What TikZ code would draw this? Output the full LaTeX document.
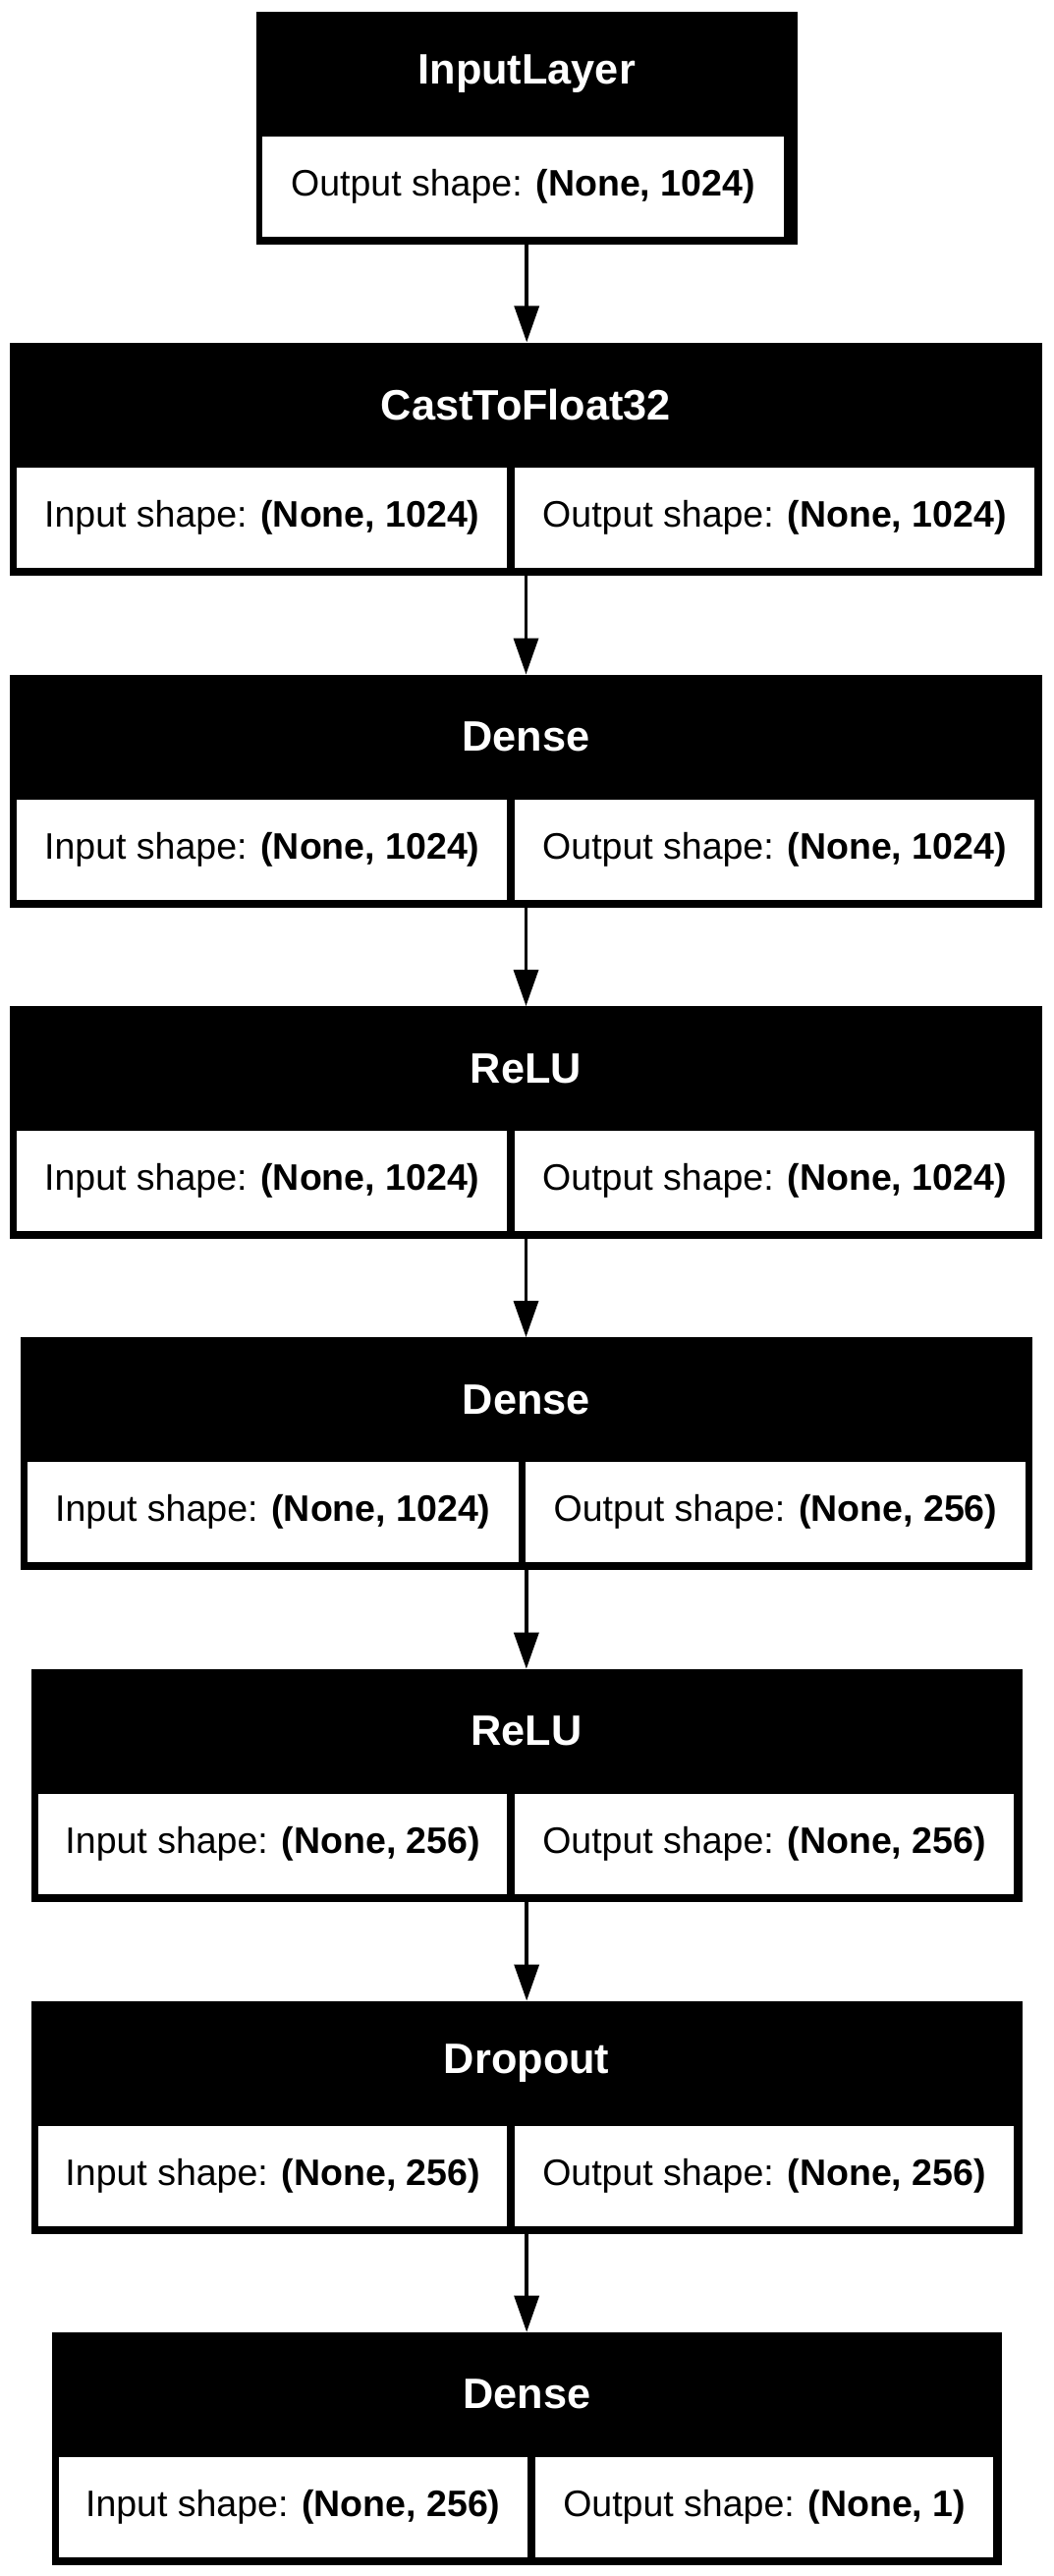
\documentclass[tikz,border=0pt]{standalone}
\usepackage{fontspec}
\setmainfont{Liberation Sans}
\usetikzlibrary{arrows.meta}

\begin{document}
\begin{tikzpicture}[x=1pt, y=1pt]
  \tikzstyle{layer}=[rectangle, fill=black, inner sep=0pt, anchor=north west, minimum height=237pt]
  \tikzstyle{head}=[text=white, inner sep=0pt, font=\fontsize{43.3}{52}\selectfont\bfseries]
  \tikzstyle{cell}=[rectangle, fill=white, inner sep=0pt, anchor=north west, minimum height=102pt,
                    font=\fontsize{37.5}{45}\selectfont]
  \tikzstyle{arrow}=[-{Triangle[length=37pt, width=25pt]}, line width=3.5pt]

  \useasboundingbox (0,0) rectangle (1072,-2622);

  % InputLayer
  \node[layer, minimum width=551pt] (inp) at (260.5,-11.5) {};
  \node[head] (inpH) at ([yshift=-63.5pt]inp.north) {InputLayer};
  \node[cell, minimum width=531.2pt] (inpOut) at (266.6,-138.5) {Output shape: \textbf{(None, 1024)}};

  % CastToFloat32
  \node[layer, minimum width=1051.4pt] (cast) at (9.6,-348.3) {};
  \node[head] (castH) at ([yshift=-63.5pt]cast.north) {CastToFloat32};
  \node[cell, minimum width=499.1pt] (castIn) at (17.1,-475.5) {Input shape: \textbf{(None, 1024)}};
  \node[cell, minimum width=529.1pt] (castOut) at (523.7,-475.5) {Output shape: \textbf{(None, 1024)}};

  % Dense
  \node[layer, minimum width=1051.4pt] (dense1) at (9.6,-686.5) {};
  \node[head] (dense1H) at ([yshift=-63.5pt]dense1.north) {Dense};
  \node[cell, minimum width=499.1pt] (dense1In) at (17.1,-813.5) {Input shape: \textbf{(None, 1024)}};
  \node[cell, minimum width=529.1pt] (dense1Out) at (523.7,-813.5) {Output shape: \textbf{(None, 1024)}};

  % ReLU
  \node[layer, minimum width=1051.4pt] (relu1) at (9.6,-1024) {};
  \node[head] (relu1H) at ([yshift=-63.5pt]relu1.north) {ReLU};
  \node[cell, minimum width=499.1pt] (relu1In) at (17.1,-1151) {Input shape: \textbf{(None, 1024)}};
  \node[cell, minimum width=529.1pt] (relu1Out) at (523.7,-1151) {Output shape: \textbf{(None, 1024)}};

  % Dense
  \node[layer, minimum width=1030.3pt] (dense2) at (20.5,-1361) {};
  \node[head] (dense2H) at ([yshift=-63.5pt]dense2.north) {Dense};
  \node[cell, minimum width=499.7pt] (dense2In) at (27.8,-1488) {Input shape: \textbf{(None, 1024)}};
  \node[cell, minimum width=509.4pt] (dense2Out) at (534.6,-1488) {Output shape: \textbf{(None, 256)}};

  % ReLU
  \node[layer, minimum width=1009.1pt] (relu2) at (31.4,-1698.7) {};
  \node[head] (relu2H) at ([yshift=-63.5pt]relu2.north) {ReLU};
  \node[cell, minimum width=477pt] (relu2In) at (39,-1825.7) {Input shape: \textbf{(None, 256)}};
  \node[cell, minimum width=508.3pt] (relu2Out) at (523.7,-1825.7) {Output shape: \textbf{(None, 256)}};

  % Dropout
  \node[layer, minimum width=1009.1pt] (drop) at (31.4,-2036.5) {};
  \node[head] (dropH) at ([yshift=-63.5pt]drop.north) {Dropout};
  \node[cell, minimum width=477pt] (dropIn) at (39,-2163.5) {Input shape: \textbf{(None, 256)}};
  \node[cell, minimum width=508.3pt] (dropOut) at (523.7,-2163.5) {Output shape: \textbf{(None, 256)}};

  % Dense
  \node[layer, minimum width=966.8pt] (dense3) at (52.6,-2373.7) {};
  \node[head] (dense3H) at ([yshift=-63.5pt]dense3.north) {Dense};
  \node[cell, minimum width=477.2pt] (dense3In) at (59.5,-2500.7) {Input shape: \textbf{(None, 256)}};
  \node[cell, minimum width=466pt] (dense3Out) at (545,-2500.7) {Output shape: \textbf{(None, 1)}};

  % Pfeile
  \foreach \a/\b in {inp/cast, cast/dense1, dense1/relu1, relu1/dense2,
                     dense2/relu2, relu2/drop, drop/dense3}
    \draw[arrow] (\a.south) -- (\a.south |- \b.north);
\end{tikzpicture}
\end{document}
